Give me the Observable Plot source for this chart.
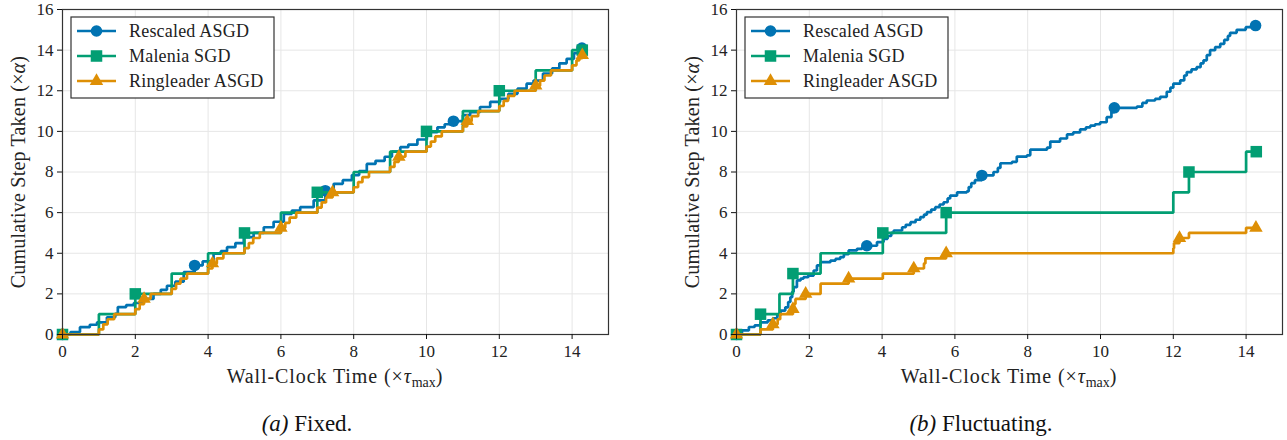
<!DOCTYPE html>
<html><head><meta charset="utf-8">
<script src="https://cdn.jsdelivr.net/npm/d3@7"></script>
<script src="https://cdn.jsdelivr.net/npm/@observablehq/plot@0.6"></script>
<style>
body{margin:0;background:#fff;}
#wrap{position:relative;width:1287px;height:440px;overflow:hidden;}
.panel{position:absolute;top:0;}
</style></head><body><div id="wrap"></div>
<script>
// ---------- data ----------
const seriesNames = ["Rescaled ASGD", "Malenia SGD", "Ringleader ASGD"];
const seriesColors = ["#0173b2", "#029e73", "#de8f05"];
const seriesSymbols = ["circle", "square", "triangle"];
const xTicks = [0, 2, 4, 6, 8, 10, 12, 14];
const yTicks = [0, 2, 4, 6, 8, 10, 12, 14, 16];
const captions = [["(a)", " Fixed."], ["(b)", " Fluctuating."]];

// (a) Fixed: [time, cumulative step]
const fixedRescaled = [[0,0],[0.22,0.12],[0.48,0.36],[0.75,0.48],[0.95,0.6],[1.22,0.85],[1.45,1.02],[1.52,1.35],[1.75,1.45],[1.96,1.55],[2.2,1.75],[2.5,2.0],[2.7,2.2],[2.87,2.4],[3.1,2.6],[3.33,3.07],[3.63,3.4],[3.85,3.6],[4.15,3.98],[4.35,4.1],[4.52,4.3],[4.75,4.5],[4.98,4.79],[5.25,5.0],[5.53,5.28],[5.8,5.55],[6.08,5.94],[6.3,6.1],[6.53,6.27],[6.9,6.6],[7.22,7.08],[7.45,7.42],[7.7,7.6],[7.95,7.85],[8.15,8.05],[8.36,8.4],[8.6,8.55],[8.85,8.75],[9.05,9.0],[9.28,9.22],[9.5,9.35],[9.75,9.6],[10.01,9.96],[10.3,10.2],[10.5,10.35],[10.74,10.5],[11.0,10.8],[11.2,10.95],[11.47,11.2],[11.75,11.45],[12.02,11.6],[12.25,11.85],[12.5,12.1],[12.75,12.35],[12.94,12.5],[13.2,12.85],[13.45,13.1],[13.65,13.35],[13.85,13.57],[14.05,13.85],[14.27,14.1]];
const fixedMalenia = [[0,0],[1,1],[2,2],[3,3],[4,4],[5,5],[6,6],[7,7],[8,8],[9,9],[10,10],[11,11],[12,12],[13,13],[14,14],[14.28,14]];
const fixedRingleader = [[0,0],[1.0,0.25],[1.12,0.5],[1.24,0.75],[1.42,1.0],[2.0,1.25],[2.12,1.5],[2.24,1.75],[2.42,2.0],[3.0,2.25],[3.12,2.5],[3.24,2.75],[3.42,3.0],[4.0,3.25],[4.12,3.5],[4.24,3.75],[4.42,4.0],[5.0,4.25],[5.12,4.5],[5.24,4.75],[5.42,5.0],[6.0,5.25],[6.12,5.5],[6.24,5.75],[6.42,6.0],[7.0,6.25],[7.12,6.5],[7.24,6.75],[7.42,7.0],[8.0,7.25],[8.12,7.5],[8.24,7.75],[8.42,8.0],[9.0,8.25],[9.12,8.5],[9.24,8.75],[9.42,9.0],[10.0,9.25],[10.12,9.5],[10.24,9.75],[10.42,10.0],[11.0,10.25],[11.12,10.5],[11.24,10.75],[11.42,11.0],[12.0,11.25],[12.12,11.5],[12.24,11.75],[12.42,12.0],[13.0,12.25],[13.12,12.5],[13.24,12.75],[13.42,13.0],[14.0,13.25],[14.12,13.5],[14.2,13.6],[14.28,13.75]];
const fixedRescaledMarks = [[0,0],[3.63,3.4],[7.22,7.08],[10.74,10.5],[14.27,14.1]];
const fixedMaleniaMarks = [[0,0],[2,2],[5,5],[7,7],[10,10],[12,12],[14.28,14]];
const fixedRingleaderMarks = [[0,0],[2.24,1.75],[4.12,3.5],[6.0,5.25],[7.42,7.0],[9.24,8.75],[11.12,10.5],[13.0,12.25],[14.28,13.75]];

// (b) Fluctuating
const flucRescaled = [[0,0],[0.15,0.2],[0.34,0.37],[0.5,0.45],[0.66,0.6],[0.86,0.7],[1.0,0.8],[1.12,0.95],[1.21,1.18],[1.34,1.34],[1.42,1.6],[1.48,1.84],[1.53,2.1],[1.57,2.33],[1.66,2.66],[1.76,2.75],[1.84,2.82],[1.97,2.9],[2.12,3.15],[2.21,3.4],[2.31,3.56],[2.58,3.64],[2.72,3.72],[2.85,3.81],[2.95,3.95],[3.08,4.14],[3.31,4.22],[3.45,4.3],[3.58,4.37],[3.86,4.55],[4.04,4.71],[4.15,4.85],[4.25,5.0],[4.32,5.12],[4.55,5.28],[4.65,5.4],[4.78,5.53],[4.92,5.65],[5.05,5.78],[5.15,5.9],[5.23,6.02],[5.35,6.15],[5.46,6.27],[5.58,6.4],[5.69,6.51],[5.8,6.7],[5.87,6.84],[6.06,7.0],[6.33,7.05],[6.38,7.26],[6.45,7.45],[6.55,7.6],[6.74,7.83],[7.06,8.0],[7.18,8.2],[7.25,8.43],[7.57,8.5],[7.7,8.76],[7.98,8.82],[8.07,9.1],[8.53,9.2],[8.62,9.5],[8.89,9.65],[9.08,9.85],[9.25,9.95],[9.44,10.1],[9.6,10.2],[9.72,10.28],[9.85,10.35],[9.99,10.45],[10.17,10.7],[10.3,10.95],[10.38,11.16],[11.0,11.22],[11.15,11.4],[11.27,11.52],[11.5,11.6],[11.64,11.7],[11.82,11.95],[11.92,12.15],[12.0,12.35],[12.19,12.51],[12.3,12.75],[12.37,12.92],[12.5,13.05],[12.64,13.16],[12.75,13.35],[12.83,13.5],[12.92,13.75],[13.01,14.0],[13.15,14.15],[13.29,14.31],[13.4,14.5],[13.5,14.7],[13.56,14.85],[13.74,15.0],[13.99,15.13],[14.26,15.21]];
const flucMalenia = [[0,0],[0.66,1],[1.18,2],[1.55,3],[2.31,4],[4.02,5],[5.76,6],[12.0,7],[12.43,8],[14.0,9],[14.28,9]];
const flucRingleader = [[0,0],[0.66,0.25],[1.0,0.5],[1.13,0.75],[1.2,1.0],[1.55,1.25],[1.58,1.5],[1.62,1.75],[1.9,2.0],[2.31,2.5],[3.08,2.75],[4.02,3.0],[4.87,3.25],[5.15,3.5],[5.19,3.75],[5.76,4.0],[12.0,4.25],[12.02,4.5],[12.17,4.75],[12.43,5.0],[14.0,5.25],[14.27,5.25]];
const flucRescaledMarks = [[0,0],[3.58,4.37],[6.74,7.83],[10.38,11.16],[14.26,15.21]];
const flucMaleniaMarks = [[0,0],[0.66,1],[1.55,3],[4.02,5],[5.76,6],[12.43,8],[14.28,9]];
const flucRingleaderMarks = [[0,0],[1.0,0.5],[1.55,1.25],[1.9,2.0],[3.08,2.75],[4.87,3.25],[5.76,4.0],[12.17,4.75],[14.27,5.25]];

// ---------- drawing ----------
const FONT = "'Liberation Serif', serif";
const symR = {circle: 5.8, square: 6.5, triangle: 5.0};

function panel(lines, marks, caption, left) {
  const lineMarks = [];
  lines.forEach((d, i) => {
    lineMarks.push(Plot.line(d, {x: d => d[0], y: d => d[1], curve: "step-after",
      stroke: seriesColors[i], strokeWidth: 2.7, strokeLinejoin: "miter", strokeLinecap: "butt"}));
    lineMarks.push(Plot.dot(marks[i], {x: d => d[0], y: d => d[1], symbol: seriesSymbols[i],
      r: symR[seriesSymbols[i]], fill: seriesColors[i], stroke: "none"}));
  });
  const svg = Plot.plot({
    width: 613, height: 440,
    marginLeft: 62, marginRight: 5, marginTop: 9, marginBottom: 106,
    x: {domain: [0, 15], label: null},
    y: {domain: [0, 16], label: null},
    style: {fontFamily: FONT, fontSize: "17px", background: "#fff", color: "#222", overflow: "visible"},
    marks: [
      Plot.gridX(xTicks, {stroke: "#e6e6e6", strokeOpacity: 1, strokeWidth: 1}),
      Plot.gridY(yTicks, {stroke: "#e6e6e6", strokeOpacity: 1, strokeWidth: 1}),
      ...lineMarks,
      Plot.frame({stroke: "#333", strokeWidth: 1.2}),
      Plot.axisX(xTicks, {tickSize: 5, tickPadding: 5, fontSize: 17, label: null, stroke: "#111"}),
      Plot.axisY(yTicks, {tickSize: 5, tickPadding: 4, fontSize: 17, label: null, stroke: "#111"})
    ]
  });
  svg.classList.add("panel");
  svg.style.left = left + "px";
  const s = d3.select(svg);
  // y label
  const yl = s.append("text").attr("transform", "translate(25,172) rotate(-90)")
    .attr("text-anchor", "middle").attr("font-size", 20)
    .attr("letter-spacing", 0.2).attr("fill", "#222");
  yl.append("tspan").text("Cumulative Step Taken (\u00d7");
  yl.append("tspan").attr("font-style", "italic").text("\u03b1");
  yl.append("tspan").text(")");
  // x label
  const xl = s.append("text").attr("x", 335).attr("y", 383)
    .attr("text-anchor", "middle").attr("font-size", 20)
    .attr("letter-spacing", 0.9).attr("fill", "#222");
  xl.append("tspan").text("Wall-Clock Time (\u00d7");
  xl.append("tspan").attr("font-style", "italic").text("\u03c4");
  xl.append("tspan").attr("font-size", 14).attr("dy", 4).attr("letter-spacing", 0).text("max");
  xl.append("tspan").attr("dy", -4).text(")");
  // caption
  const cp = s.append("text").attr("x", 307).attr("y", 431)
    .attr("text-anchor", "middle").attr("font-size", 23).attr("fill", "#111");
  cp.append("tspan").attr("font-style", "italic").text(caption[0]);
  cp.append("tspan").text(caption[1]);
  // legend
  const lg = s.append("g");
  lg.append("rect").attr("x", 71).attr("y", 17).attr("width", 203).attr("height", 81)
    .attr("fill", "#fff").attr("stroke", "#333").attr("stroke-width", 1.2);
  seriesNames.forEach((name, i) => {
    const cy = 31 + i * 25;
    lg.append("line").attr("x1", 77).attr("x2", 116).attr("y1", cy).attr("y2", cy)
      .attr("stroke", seriesColors[i]).attr("stroke-width", 2.7);
    lg.append("path").attr("transform", `translate(96.5,${cy})`)
      .attr("d", d3.symbol(seriesSymbols[i] === "circle" ? d3.symbolCircle : seriesSymbols[i] === "square" ? d3.symbolSquare : d3.symbolTriangle,
        Math.PI * symR[seriesSymbols[i]] ** 2)())
      .attr("fill", seriesColors[i]);
    lg.append("text").attr("x", 129).attr("y", cy).attr("dy", "0.35em").attr("text-anchor", "start")
      .attr("font-size", 18).attr("letter-spacing", 0.2).attr("fill", "#222").text(name);
  });
  // force the serif face on every text run (inline style wins over inherited styles)
  s.selectAll("text, tspan").each(function() {
    this.style.setProperty("font-family", FONT, "important");
  });
  document.getElementById("wrap").appendChild(svg);
}

panel([fixedRescaled, fixedMalenia, fixedRingleader],
      [fixedRescaledMarks, fixedMaleniaMarks, fixedRingleaderMarks], captions[0], 0);
panel([flucRescaled, flucMalenia, flucRingleader],
      [flucRescaledMarks, flucMaleniaMarks, flucRingleaderMarks], captions[1], 674);
</script></body></html>
